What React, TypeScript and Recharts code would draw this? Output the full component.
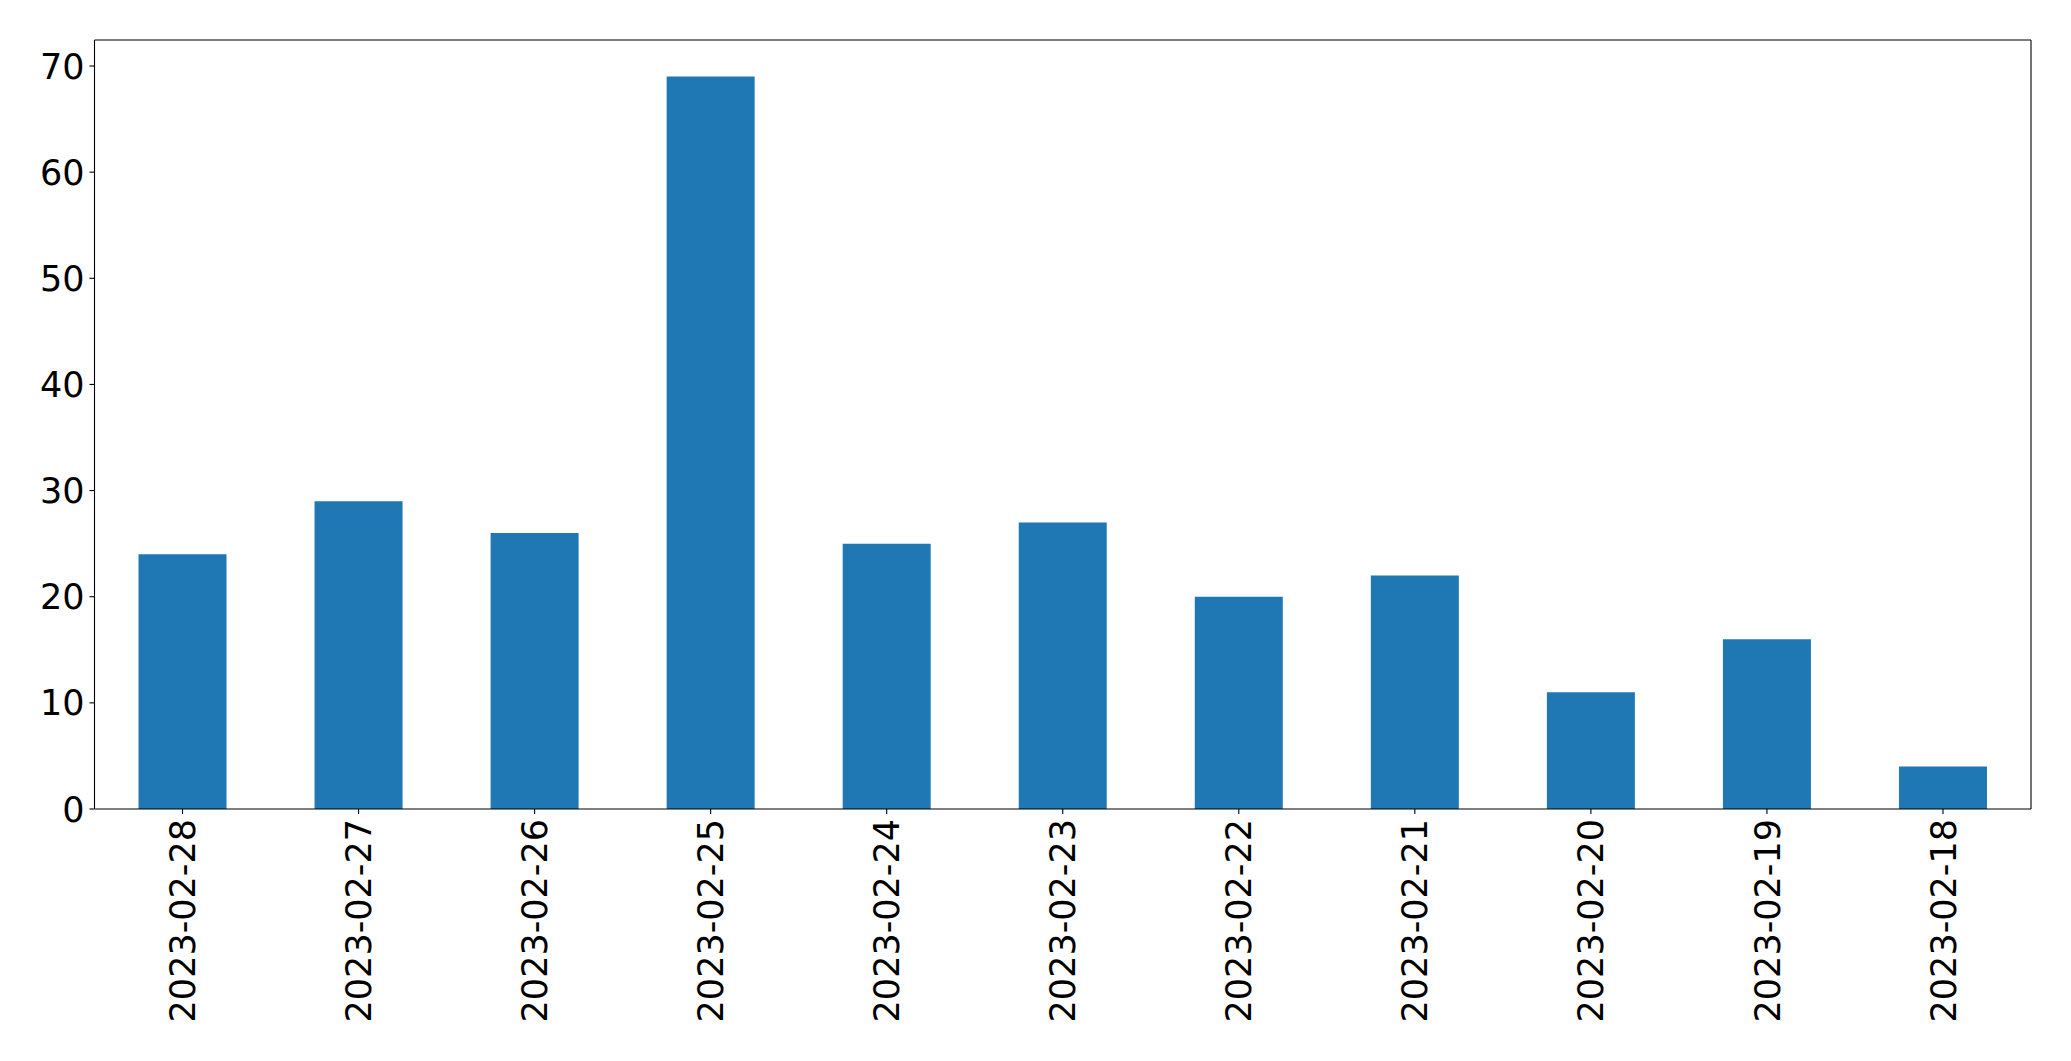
import { BarChart, Bar, XAxis, YAxis } from "recharts";

// daily counts, newest first (as in the source chart)
const dates = [
  "2023-02-28",
  "2023-02-27",
  "2023-02-26",
  "2023-02-25",
  "2023-02-24",
  "2023-02-23",
  "2023-02-22",
  "2023-02-21",
  "2023-02-20",
  "2023-02-19",
  "2023-02-18",
];
const counts = [24, 29, 26, 69, 25, 27, 20, 22, 11, 16, 4];
const yTicks = [0, 10, 20, 30, 40, 50, 60, 70];

const FONT = "'DejaVu Sans', sans-serif";
const LINE = { stroke: "#000", strokeWidth: 1.1 };

const XTick = (props: any) => {
  const { x, y, payload } = props;
  return (
    <text
      x={x}
      y={y}
      dy="0.36em"
      transform={`rotate(-90, ${x}, ${y})`}
      textAnchor="end"
      fontFamily={FONT}
      fontSize={35}
      fill="#000"
    >
      {payload.value}
    </text>
  );
};

const YTick = (props: any) => {
  const { x, y, payload } = props;
  return (
    <text x={x} y={y} dy="0.36em" textAnchor="end" fontFamily={FONT} fontSize={35} fill="#000">
      {payload.value}
    </text>
  );
};

export default function App() {
  const data = dates.map((d, i) => ({ date: d, count: counts[i] }));

  return (
    <div style={{ width: 2071, height: 1061, background: "#fff" }}>
      <style>{"body{margin:0}"}</style>
      <BarChart
        width={2071}
        height={1061}
        data={data}
        margin={{ top: 39, right: 39, bottom: 0, left: 0 }}
        barCategoryGap="25%"
      >
        <XAxis
          dataKey="date"
          interval={0}
          height={252}
          tick={<XTick />}
          tickSize={5}
          tickMargin={5}
          axisLine={LINE}
          tickLine={LINE}
        />
        {/* top edge of the frame */}
        <XAxis
          xAxisId="top"
          orientation="top"
          dataKey="date"
          height={1}
          tick={false}
          tickLine={false}
          axisLine={LINE}
        />
        <YAxis
          width={94.5}
          domain={[0, 72.45]}
          ticks={yTicks}
          allowDataOverflow
          tick={<YTick />}
          tickSize={5}
          tickMargin={5}
          axisLine={LINE}
          tickLine={LINE}
        />
        {/* right edge of the frame */}
        <YAxis
          yAxisId="right"
          orientation="right"
          width={1}
          domain={[0, 72.45]}
          tick={false}
          tickLine={false}
          axisLine={LINE}
        />
        <Bar dataKey="count" fill="#1f77b4" isAnimationActive={false} />
      </BarChart>
    </div>
  );
}
